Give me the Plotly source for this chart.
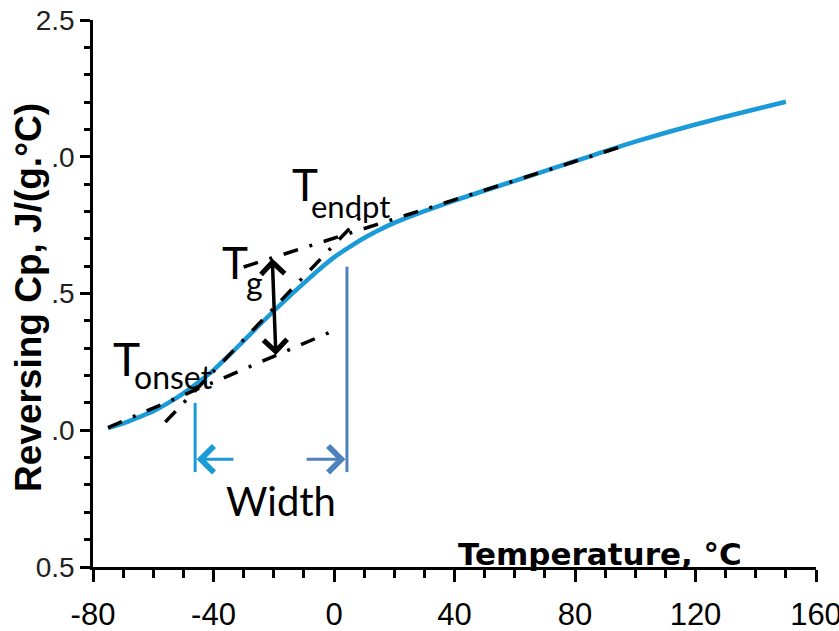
import plotly.graph_objects as go

# Reversing heat capacity across the glass transition
temp_c = [-75, -70, -65, -60, -55, -50, -45, -40, -35, -30, -25, -20, -15, -10, -5, 0, 5, 10, 15,
          20, 30, 40, 60, 80, 100, 120, 150]
rev_cp = [1.008, 1.025, 1.047, 1.07, 1.10, 1.135, 1.175, 1.22, 1.272, 1.327, 1.382, 1.436, 1.488,
          1.538, 1.587, 1.632, 1.669, 1.703, 1.732, 1.758, 1.801, 1.84, 1.912, 1.984, 2.055, 2.118,
          2.201]

# Construction lines (end points of each tangent)
base_lo_x = [-75, -1]
base_lo_y = [1.01, 1.36]
steep_x = [-56, 11]
steep_y = [1.03, 1.805]
base_hi_x = [-30, 96]
base_hi_y = [1.597, 2.039]

# Step height arrow at Tg
tg_x = [-20.5, -19.3]
tg_y = [1.633, 1.275]

# Transition width markers
onset_mark_x = -46.1
endpt_mark_x = 4.3
mark_y_low = 0.847
onset_mark_top = 1.10
endpt_mark_top = 1.598
width_arrow_y = 0.894
onset_arrow_tail = -32.9
endpt_arrow_tail = -9.6

x_ticks = [-80, -40, 0, 40, 80, 120, 160]
y_ticks = [0.5, 1.0, 1.5, 2.0, 2.5]

CURVE = "#1A9BD7"
STEEL = "#4F81BD"
DASHDOT = "15px,12px,3px,12px"
ANN_FONT = "Lato, 'Open Sans', sans-serif"
BOLD_FONT = "'DejaVu Sans', sans-serif"
TICK_FONT = "'Liberation Sans', Arial, sans-serif"


def tangent(xs, ys):
    return go.Scatter(x=xs, y=ys, mode="lines",
                      line=dict(color="black", width=3.5, dash=DASHDOT), hoverinfo="skip")


fig = go.Figure()

fig.add_trace(go.Scatter(x=temp_c, y=rev_cp, mode="lines",
                         line=dict(color=CURVE, width=4.5, shape="spline", smoothing=1)))

for xs, ys in [(base_lo_x, base_lo_y), (steep_x, steep_y), (base_hi_x, base_hi_y)]:
    fig.add_trace(tangent(xs, ys))

fig.add_trace(go.Scatter(x=[onset_mark_x, onset_mark_x], y=[mark_y_low, onset_mark_top],
                         mode="lines", line=dict(color=CURVE, width=3)))
fig.add_trace(go.Scatter(x=[endpt_mark_x, endpt_mark_x], y=[mark_y_low, endpt_mark_top],
                         mode="lines", line=dict(color=STEEL, width=3)))

annotations = [
    # Tg step arrow (double headed)
    dict(x=tg_x[1], y=tg_y[1], ax=tg_x[0], ay=tg_y[0], xref="x", yref="y",
         axref="x", ayref="y", text="", showarrow=True, arrowhead=4, startarrowhead=4,
         arrowside="end+start", arrowwidth=3.5, arrowsize=1.3, startarrowsize=1.3,
         arrowcolor="black"),
    # width arrows
    dict(x=onset_mark_x + 0.5, y=width_arrow_y, ax=onset_arrow_tail, ay=width_arrow_y,
         xref="x", yref="y", axref="x", ayref="y", text="", showarrow=True,
         arrowhead=4, arrowwidth=3, arrowsize=1.7, arrowcolor=CURVE),
    dict(x=endpt_mark_x - 0.5, y=width_arrow_y, ax=endpt_arrow_tail, ay=width_arrow_y,
         xref="x", yref="y", axref="x", ayref="y", text="", showarrow=True,
         arrowhead=4, arrowwidth=3, arrowsize=1.7, arrowcolor=STEEL),
]


def px_text(text, px, py, size, xanchor="left", yanchor="bottom", family=ANN_FONT, bold=False):
    return dict(text=f"<b>{text}</b>" if bold else text,
                x=(px - 93) / 723, y=(567 - py) / 547, xref="paper", yref="paper",
                xanchor=xanchor, yanchor=yanchor, showarrow=False,
                font=dict(family=family, size=size, color="black"))


annotations += [
    px_text("T", 111, 388, 46),
    px_text("onset", 132, 398, 32),
    px_text("T", 220, 290, 44),
    px_text("g", 244, 304, 32),
    px_text("T", 290, 212, 44),
    px_text("endpt", 309, 227, 31),
    px_text("Width", 281, 501, 40, xanchor="center", yanchor="middle"),
    px_text("Temperature, °C", 600, 554, 31, xanchor="center", yanchor="middle",
            family=BOLD_FONT, bold=True),
]

# y title in a white box laid over the tick labels
annotations.append(dict(text="<b>Reversing Cp, J/(g.°C)</b>", x=(28 - 93) / 723, y=(567 - 298) / 547,
                        xref="paper", yref="paper", xanchor="center", yanchor="middle",
                        textangle=-90, showarrow=False, bgcolor="white",
                        font=dict(family=TICK_FONT, size=37, color="black")))

fig.update_layout(
    width=839, height=631,
    margin=dict(l=93, r=23, t=20, b=64, autoexpand=False),
    paper_bgcolor="white", plot_bgcolor="white",
    showlegend=False,
    annotations=annotations,
)

fig.update_xaxes(range=[-80, 160], tickvals=x_ticks, ticktext=[str(v) for v in x_ticks],
                 automargin=False, ticklabeloverflow="allow",
                 showgrid=False, zeroline=False, showline=True, linecolor="black", linewidth=2.5,
                 ticks="outside", ticklen=12, tickwidth=2.5, tickcolor="black", ticklabelstandoff=6,
                 minor=dict(dtick=10, ticks="outside", ticklen=8, tickwidth=2.5, tickcolor="black",
                            showgrid=False),
                 tickfont=dict(family=TICK_FONT, size=31, color="black"))
fig.update_yaxes(range=[0.5, 2.5], tickvals=y_ticks, ticktext=[f"{v:.1f}" for v in y_ticks],
                 automargin=False, ticklabeloverflow="allow",
                 showgrid=False, zeroline=False, showline=True, linecolor="black", linewidth=2.5,
                 ticks="outside", ticklen=10, tickwidth=2.5, tickcolor="black",
                 minor=dict(dtick=0.1, ticks="outside", ticklen=6, tickwidth=2.5, tickcolor="black",
                            showgrid=False),
                 tickfont=dict(family=TICK_FONT, size=28, color="#222"))

fig.write_html("out.html")
